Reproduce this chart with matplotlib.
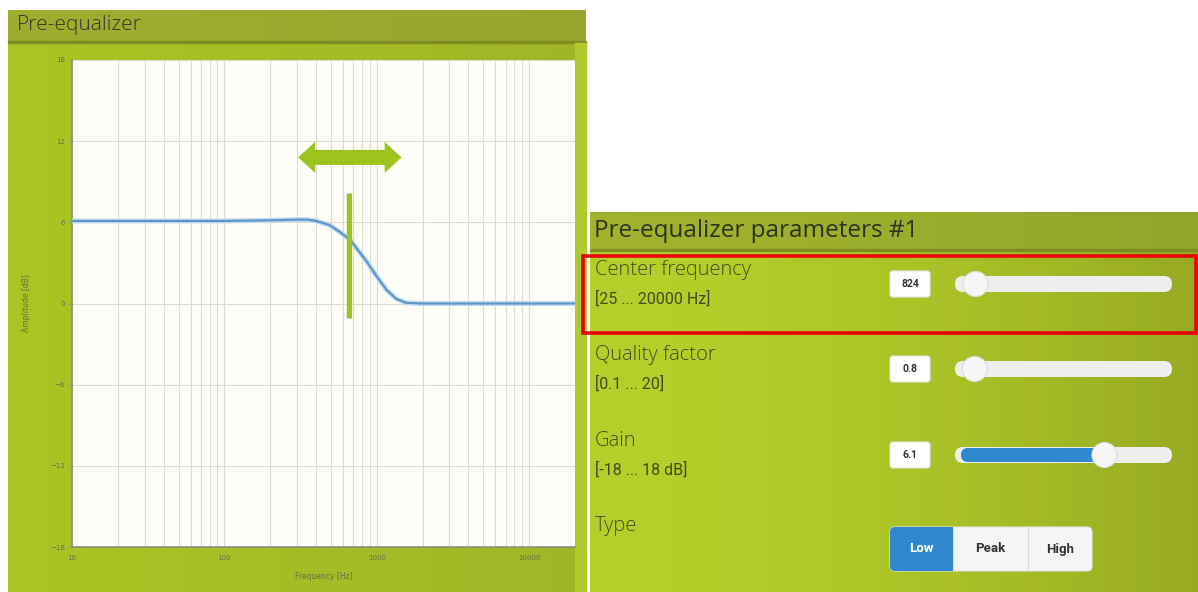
import numpy as np
import matplotlib.pyplot as plt
from matplotlib.patches import Rectangle, FancyBboxPatch, Circle, Polygon
from matplotlib.transforms import IdentityTransform

# response curve
freq_hz = [10, 30, 100, 200, 300, 350, 400, 490, 570, 670, 770, 860, 1000,
           1160, 1340, 1560, 2000, 5000, 20000]
amp_db = [6.1, 6.1, 6.1, 6.15, 6.2, 6.2, 6.1, 5.8, 5.3, 4.7, 3.8, 3.1, 2.0,
          1.0, 0.35, 0.05, 0.0, 0.0, 0.0]
y_ticks = [-18, -12, -6, 0, 6, 12, 18]
x_ticks = [10, 100, 1000, 10000]
x_ticklabels = ["10", "100", "1000", "10000"]

# green handle on the chart
marker_freq = 656
marker_db = (-1.1, 8.2)
arrow_freq = (305, 1456)
arrow_db = 10.8

# parameter panel
param_names = ["Center frequency", "Quality factor", "Gain"]
param_ranges = ["[25 ... 20000 Hz]", "[0.1 ... 20]", "[-18 ... 18 dB]"]
param_lo = [25, 0.1, -18]
param_hi = [20000, 20, 18]
param_values = [824, 0.8, 6.1]
param_text = ["824", "0.8", "6.1"]
type_buttons = ["Low", "Peak", "High"]
type_selected = "Low"

W, H = 1198, 592
GREEN = "#9dc31f"
LINE = "#5a96c8"
TXT = "#454d22"

fig = plt.figure(figsize=(W / 100, H / 100), dpi=100)
fig.patch.set_facecolor("white")
bg = fig.add_axes([0, 0, 1, 1])
bg.set_xlim(0, W)
bg.set_ylim(H, 0)
bg.axis("off")


def gradient(x0, x1, y0, y1, c_left, c_right, power=1.0):
    t = np.linspace(0, 1, 200) ** power
    a = np.array(plt.matplotlib.colors.to_rgb(c_left))
    b = np.array(plt.matplotlib.colors.to_rgb(c_right))
    img = a[None, :] * (1 - t[:, None]) + b[None, :] * t[:, None]
    bg.imshow(img[None, :, :], extent=(x0, x1, y1, y0), aspect="auto", zorder=0)


# left panel
gradient(8, 586, 10, 592, "#aac523", "#a0b627")
gradient(8, 586, 10, 42, "#a0ae30", "#97a52c")
bg.add_patch(Rectangle((8, 41), 578, 2, color="#7f8c22", zorder=1))
bg.add_patch(Rectangle((575, 43), 11, 549, color="#afca2c", zorder=1))
bg.text(17, 25, "Pre-equalizer", fontsize=15, family="Open Sans",
        weight="light", color="#33352a", va="center", ha="left")

# right panel
gradient(590, W, 212, 592, "#b6cf2a", "#97aa22", power=1.8)
gradient(590, W, 212, 250, "#a2b42e", "#94a62a")
bg.add_patch(Rectangle((590, 249), W - 590, 2, color="#7f8c22", zorder=1))
bg.text(594, 231, "Pre-equalizer parameters #1", fontsize=17.5,
        family="Open Sans", color="#2e3220", va="center", ha="left")

row_y = [284, 369, 455]
track_x0, track_x1 = 955, 1172
knob_r = 12.5
for name, rng, lo, hi, val, txt, cy in zip(param_names, param_ranges, param_lo,
                                           param_hi, param_values, param_text, row_y):
    bg.text(595, cy - 14, name, fontsize=14.5, family="Open Sans",
            weight="light", color=TXT, va="center", ha="left")
    bg.text(595, cy + 15, rng, fontsize=11.5, family="Roboto",
            color=TXT, va="center", ha="left")
    bg.add_patch(FancyBboxPatch((890, cy - 13), 40, 26,
                                boxstyle="round,pad=0,rounding_size=3",
                                fc="white", ec="#e6e6e6", lw=0.8, zorder=2))
    bg.text(910, cy, txt, fontsize=7.5, family="Roboto", weight="bold",
            color="#333333", va="center", ha="center", zorder=3)
    bg.add_patch(FancyBboxPatch((track_x0, cy - 8), track_x1 - track_x0, 16,
                                boxstyle="round,pad=0,rounding_size=8",
                                fc="#eeeeee", ec="none", zorder=2))
    frac = (val - lo) / (hi - lo)
    kx = track_x0 + knob_r + frac * (track_x1 - track_x0 - knob_r)
    if lo < 0:
        bg.add_patch(FancyBboxPatch((track_x0 + 6, cy - 7), kx - track_x0 - 6, 14,
                                    boxstyle="round,pad=0,rounding_size=7",
                                    fc="#2f87d0", ec="none", zorder=2))
    bg.add_patch(Circle((kx, cy), knob_r, fc="#f6f6f6", ec="#dcdcdc",
                        lw=0.8, zorder=3))

bg.add_patch(Rectangle((583, 256), 613, 77, fill=False, ec="#e8000a",
                       lw=2.6, zorder=4))

bg.text(595, 526, "Type", fontsize=14.5, family="Open Sans", weight="light",
        color=TXT, va="center", ha="left")
btn_edges = [890, 953, 1028, 1092]
by0, bh = 527, 44
bg.add_patch(FancyBboxPatch((btn_edges[0], by0), btn_edges[-1] - btn_edges[0], bh,
                            boxstyle="round,pad=0,rounding_size=5",
                            fc="#f5f5f5", ec="#e4e4e4", lw=0.8, zorder=2))
for i, lab in enumerate(type_buttons):
    xa, xb = btn_edges[i], btn_edges[i + 1]
    sel = lab == type_selected
    if sel:
        bg.add_patch(FancyBboxPatch((xa, by0), xb - xa, bh,
                                    boxstyle="round,pad=0,rounding_size=5",
                                    fc="#2f87d0", ec="none", zorder=2.5))
        bg.add_patch(Rectangle((xb - 8, by0), 8, bh, fc="#2f87d0",
                               ec="none", zorder=2.5))
    if i > 0:
        bg.plot([xa, xa], [by0 + 1, by0 + bh - 1], color="#dddddd", lw=0.8, zorder=3)
    bg.text((xa + xb) / 2, by0 + bh / 2, lab, fontsize=9.5, family="Roboto",
            weight="bold", color="white" if sel else "#333333",
            va="center", ha="center", zorder=3)

# chart
ax = fig.add_axes([72 / W, 1 - 547 / H, (575 - 72) / W, (547 - 60) / H])
ax.set_facecolor("#fffdf8")
ax.set_xscale("log")
ax.set_xlim(10, 20000)
ax.set_ylim(-18, 18)
ax.set_yticks(y_ticks)
ax.set_xticks(x_ticks)
ax.set_xticklabels(x_ticklabels)
ax.minorticks_on()
ax.yaxis.set_minor_locator(plt.NullLocator())
ax.grid(True, which="both", axis="x", color="#dcdcd2", lw=0.8)
ax.grid(True, which="major", axis="y", color="#dcdcd2", lw=0.8)
ax.tick_params(which="both", length=0, labelsize=5, labelcolor="#6a6d4c")
ax.tick_params(axis="y", length=3, color="#9a9a8a", pad=2)
ax.tick_params(axis="x", pad=6)
for s in ["top", "right"]:
    ax.spines[s].set_visible(False)
for s in ["left", "bottom"]:
    ax.spines[s].set_color("#8d8d80")
    ax.spines[s].set_linewidth(1.2)
ax.set_xlabel("Frequency [Hz]", fontsize=5.5, color="#6a6d4c", labelpad=8)
ax.set_ylabel("Amplitude [dB]", fontsize=5.5, color="#6a6d4c", labelpad=14)

ax.plot(freq_hz, amp_db, color="#bcd9ef", lw=3.5, solid_capstyle="butt", zorder=3)
ax.plot(freq_hz, amp_db, color=LINE, lw=1.5, zorder=4)
ax.plot([marker_freq, marker_freq], marker_db, color=GREEN, lw=3.8, zorder=5,
        solid_capstyle="butt")

# double arrow: ends from the data, head/shaft size in pixels
(xl, yc), (xr, _) = ax.transData.transform([(arrow_freq[0], arrow_db),
                                            (arrow_freq[1], arrow_db)])
shaft, head, head_len = 7.5, 15.5, 17
pts = [(xl, yc), (xl + head_len, yc + head), (xl + head_len, yc + shaft),
       (xr - head_len, yc + shaft), (xr - head_len, yc + head), (xr, yc),
       (xr - head_len, yc - head), (xr - head_len, yc - shaft),
       (xl + head_len, yc - shaft), (xl + head_len, yc - head)]
ax.add_patch(Polygon(pts, closed=True, fc=GREEN, ec="none",
                     transform=IdentityTransform(), zorder=5))

fig.savefig("out.png", dpi=100, facecolor="white")
